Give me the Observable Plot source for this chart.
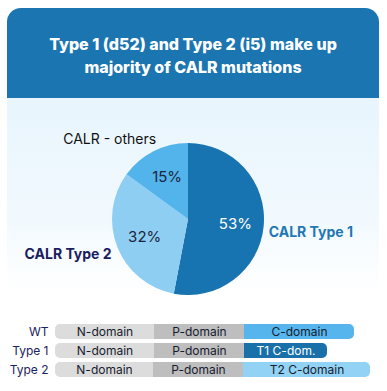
<!DOCTYPE html>
<html>
<head>
<meta charset="utf-8">
<script src="https://cdn.jsdelivr.net/npm/d3@7"></script>
<script src="https://cdn.jsdelivr.net/npm/@observablehq/plot@0.6"></script>
<style>
  html, body { margin: 0; padding: 0; background: #ffffff; }
  body { width: 387px; height: 391px; position: relative; overflow: hidden; font-family: Inter, "Liberation Sans", sans-serif; }
  #header { position: absolute; left: 7px; top: 8px; width: 372px; height: 84px; padding-top: 6px; background: #1b75b1;
    border-radius: 14px 14px 0 0; color: #fff; font-weight: 800; font-size: 16px; line-height: 23px;
    text-align: center; display: flex; align-items: center; justify-content: center; }
  #panel { position: absolute; left: 7px; top: 98px; width: 372px; height: 195px;
    background: linear-gradient(to bottom, #e8f5fd 0%, #f1f9fe 60%, #ffffff 100%); }
  #pie { position: absolute; left: 0; top: 100px; }
  #domains { position: absolute; left: 0; top: 318px; }
</style>
</head>
<body>
<div id="header"><div>Type 1 (d52) and Type 2 (i5) make up<br>majority of CALR mutations</div></div>
<div id="panel"></div>
<div id="pie"></div>
<div id="domains"></div>
<script>
// ---- Pie data ----
const categories = ["CALR Type 1", "CALR Type 2", "CALR - others"];
const shares = [53, 32, 15];
const sliceColors = ["#1874b0", "#8ecef3", "#52b4ea"];
const pctColors = ["#ffffff", "#1c2540", "#1c2540"];
const labelColors = ["#1f78b5", "#1b1d5e", "#111111"];
const labelWeights = [700, 700, 400];

// ---- Domain bar data ----
const rows = ["WT", "Type 1", "Type 2"];
const segNames = [
  ["N-domain", "P-domain", "C-domain"],
  ["N-domain", "P-domain", "T1 C-dom."],
  ["N-domain", "P-domain", "T2 C-domain"]
];
const segStarts = [
  [0, 99, 189],
  [0, 99, 189],
  [0, 98, 188]
];
const segEnds = [
  [99, 189, 299],
  [99, 189, 272],
  [98, 188, 315]
];
const segColors = [
  ["#dcdcdc", "#bebebe", "#56b5ec"],
  ["#dcdcdc", "#bebebe", "#1a70a9"],
  ["#dcdcdc", "#bebebe", "#92d2f4"]
];
const segTextColors = [
  ["#161b2e", "#161b2e", "#161b2e"],
  ["#161b2e", "#161b2e", "#ffffff"],
  ["#161b2e", "#161b2e", "#161b2e"]
];

// ---- Pie ----
const pieArcs = d3.pie().sort(null).value(d => d.value)(
  categories.map((c, i) => ({category: c, value: shares[i], i}))
);
const colorScale = Plot.scale({color: {domain: categories, range: sliceColors}});

const slices = pieArcs.map(a => ({
  category: a.data.category, value: a.data.value, i: a.data.i,
  startAngle: a.startAngle, endAngle: a.endAngle, mid: (a.startAngle + a.endAngle) / 2
}));
const pctLabels = slices.map(s => ({
  text: s.value + "%", x: 0.62 * Math.sin(s.mid), y: -0.62 * Math.cos(s.mid), color: pctColors[s.i]
}));
const catLabels = slices.map(s => {
  const rr = s.i === 2 ? 1.14 : 1.06;
  return {
    text: s.category, x: rr * Math.sin(s.mid), y: -rr * Math.cos(s.mid),
    color: labelColors[s.i], weight: labelWeights[s.i], i: s.i
  };
});

function pieMark(index, scales) {
  const cx = scales.x(0), cy = scales.y(0);
  const R = scales.x(1) - scales.x(0);
  const arc = d3.arc().innerRadius(0).outerRadius(R);
  const g = d3.create("svg:g").attr("transform", `translate(${cx},${cy})`);
  g.selectAll("path").data(slices).join("path")
    .attr("d", d => arc({startAngle: d.startAngle, endAngle: d.endAngle}))
    .attr("fill", d => colorScale.apply(d.category));
  return g.node();
}

const R0 = 76;
const pie = Plot.plot({
  width: 387, height: 200, margin: 0,
  x: {domain: [-188 / R0, (387 - 188) / R0], range: [0, 387], axis: null},
  y: {domain: [-119 / R0, 81 / R0], range: [0, 200], axis: null},
  style: {background: "transparent", fontFamily: "Inter, 'Liberation Sans', sans-serif"},
  marks: [
    pieMark,
    Plot.text(pctLabels, {x: "x", y: "y", text: "text", fill: d => d.color, fontSize: 15}),
    Plot.text(catLabels.filter(d => d.i === 0), {x: "x", y: "y", text: "text", fill: d => d.color,
      textAnchor: "start", fontSize: 14, fontWeight: 700, dy: 5}),
    Plot.text(catLabels.filter(d => d.i === 1), {x: "x", y: "y", text: "text", fill: d => d.color,
      textAnchor: "end", fontSize: 14, fontWeight: 700, dx: -2, dy: 5}),
    Plot.text(catLabels.filter(d => d.i === 2), {x: "x", y: "y", text: "text", fill: d => d.color,
      textAnchor: "end", fontSize: 14, fontWeight: 400, dx: 7, dy: -3})
  ]
});
document.getElementById("pie").appendChild(pie);

// ---- Domain bars ----
const segs = [];
rows.forEach((r, i) => {
  segNames[i].forEach((n, j) => {
    segs.push({row: r, name: n, start: segStarts[i][j], end: segEnds[i][j],
      color: segColors[i][j], tcolor: segTextColors[i][j], pos: j});
  });
});

const domains = Plot.plot({
  width: 387, height: 64,
  marginLeft: 55, marginRight: 17, marginTop: 0, marginBottom: 0,
  x: {domain: [0, 315], axis: null},
  y: {domain: rows, padding: 0.22, label: null},
  style: {background: "transparent", fontFamily: "Inter, 'Liberation Sans', sans-serif", fontSize: "12px"},
  marks: [
    Plot.axisY({tickSize: 0, tickPadding: 7, label: null, fill: "#1b2160", fontSize: 12}),
    Plot.barX(segs.filter(d => d.pos === 0), {x1: "start", x2: "end", y: "row", fill: d => d.color, rx: 5, insetRight: -8}),
    Plot.barX(segs.filter(d => d.pos === 2), {x1: "start", x2: "end", y: "row", fill: d => d.color, rx: 5, insetLeft: -8}),
    Plot.barX(segs.filter(d => d.pos === 1), {x1: "start", x2: "end", y: "row", fill: d => d.color}),
    Plot.text(segs, {x: d => (d.start + d.end) / 2, y: "row", text: "name", fill: d => d.tcolor, fontSize: 12})
  ]
});
document.getElementById("domains").appendChild(domains);
</script>
</body>
</html>
